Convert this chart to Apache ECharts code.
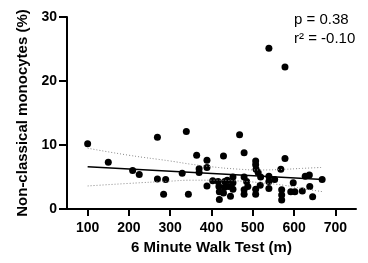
<!DOCTYPE html>
<html>
<head>
    <meta charset="utf-8">
    <title>6MWT vs non-classical monocytes</title>
    <script src="https://cdn.jsdelivr.net/npm/echarts@6/dist/echarts.min.js"></script>
    <style>
      html, body { margin: 0; padding: 0; background: #fff; }
    </style>
</head>
<body>
    <div id="main" style="width:368px;height:263px;"></div>
    <script type="text/javascript">
      // 6MWT distance (m) and non-classical monocytes (%) for each subject
      var walkDist = [100, 150, 209, 225, 269, 269, 289, 284, 329, 339, 344, 364, 370, 370,
        389, 389, 389, 403, 416, 418, 419, 419, 429, 432, 432, 429, 438, 442, 446,
        452, 452, 452, 468, 479, 479, 485, 488, 479, 479, 507, 507, 508, 513, 519,
        507, 507, 518, 539, 539, 539, 539, 553, 568, 570, 570, 570, 578, 578, 592,
        598, 602, 620, 627, 637, 638, 645, 668];
      var monoPct = [10.2, 7.3, 6.0, 5.4, 11.2, 4.7, 4.6, 2.3, 5.6, 12.1, 2.3, 8.4, 6.3, 5.7,
        7.6, 6.5, 3.6, 4.4, 4.3, 3.5, 2.7, 1.5, 8.3, 4.3, 3.4, 2.5, 4.5, 3.5, 2.0,
        5.0, 4.1, 3.1, 11.6, 8.8, 5.0, 4.3, 3.5, 3.0, 2.3, 7.5, 6.9, 6.2, 5.7, 5.0,
        3.1, 2.3, 3.7, 25.1, 5.1, 4.3, 3.2, 4.6, 6.2, 3.0, 2.2, 1.4, 7.9, 22.2, 2.7,
        4.1, 2.7, 2.8, 5.1, 5.3, 3.5, 1.9, 4.6];

      // regression line and 95% band
      var fitX = [100, 670];
      var fitY = [6.6, 4.6];
      var bandX = [100, 200, 300, 350, 400, 460, 520, 576, 620, 670];
      var bandUpper = [9.5, 8.4, 7.5, 7.0, 6.6, 6.25, 6.1, 6.2, 6.35, 6.5];
      var bandLower = [3.6, 4.0, 4.35, 4.5, 4.5, 4.4, 4.1, 3.7, 3.2, 2.7];

      var xTicks = [100, 200, 300, 400, 500, 600, 700];
      var statsText = ['p = 0.38', 'r\u00b2 = -0.10'];

      function zip(xs, ys) {
        return xs.map(function (x, i) { return [x, ys[i]]; });
      }

      var font = 'Liberation Sans, Arial, sans-serif';
      var chart = echarts.init(document.getElementById('main'), null, { renderer: 'canvas' });
      var option = {
        animation: false,
        title: {
          text: statsText.join('\n'),
          left: 294, top: 10, padding: 0,
          textStyle: { fontFamily: font, fontSize: 15, fontWeight: 'normal', color: '#000', lineHeight: 19 }
        },
        grid: { left: 67, right: 12, top: 17, bottom: 54 },
        xAxis: {
          type: 'value', min: 50, max: 750,
          name: '6 Minute Walk Test (m)', nameLocation: 'middle', nameGap: 30,
          nameTextStyle: { fontFamily: font, fontSize: 15, fontWeight: 'bold', color: '#000' },
          axisLine: { onZero: false, lineStyle: { color: '#000', width: 2 } },
          axisTick: { customValues: xTicks, length: 7, lineStyle: { color: '#000', width: 2 } },
          axisLabel: { customValues: xTicks, margin: 12, fontFamily: font, fontSize: 14, fontWeight: 'bold', color: '#000' },
          splitLine: { show: false }
        },
        yAxis: {
          type: 'value', min: 0, max: 30, interval: 10,
          name: 'Non-classical monocytes (%)', nameLocation: 'middle', nameGap: 31,
          nameTextStyle: { fontFamily: font, fontSize: 15, fontWeight: 'bold', color: '#000' },
          axisLine: { show: true, lineStyle: { color: '#000', width: 2 } },
          axisTick: { show: true, length: 8, lineStyle: { color: '#000', width: 2 } },
          axisLabel: { margin: 10, fontFamily: font, fontSize: 14, fontWeight: 'bold', color: '#000' },
          splitLine: { show: false }
        },
        series: [
          { type: 'line', data: zip(bandX, bandUpper), smooth: true, symbol: 'none',
            lineStyle: { color: '#888', width: 1, type: [1, 2] } },
          { type: 'line', data: zip(bandX, bandLower), smooth: true, symbol: 'none',
            lineStyle: { color: '#888', width: 1, type: [1, 2] } },
          { type: 'line', data: zip(fitX, fitY), symbol: 'none',
            lineStyle: { color: '#000', width: 1.5 } },
          { type: 'scatter', data: zip(walkDist, monoPct), symbolSize: 7,
            itemStyle: { color: '#000', opacity: 1 } }
        ]
      };
      chart.setOption(option);
    </script>
</body>
</html>
